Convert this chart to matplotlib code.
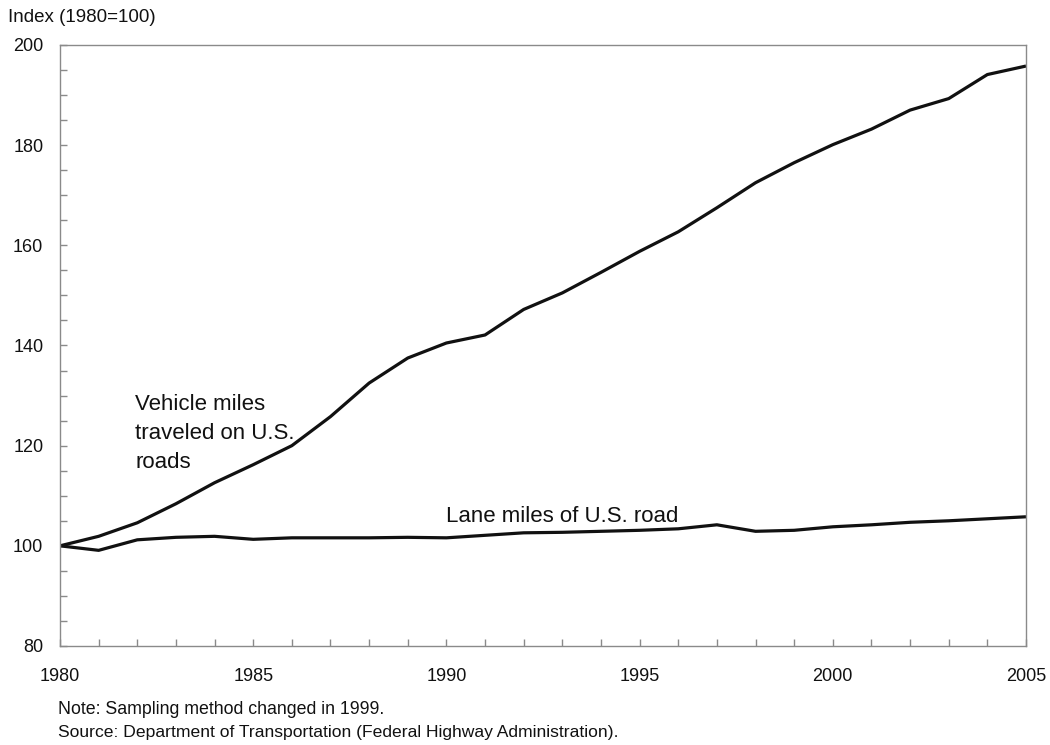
import numpy as np
import matplotlib
matplotlib.use("Agg")
import matplotlib.pyplot as plt
from matplotlib.ticker import MultipleLocator

plt.rcParams["font.family"] = ["Liberation Sans", "DejaVu Sans"]

# Data (index, 1980=100)
years = list(range(1980, 2006))
vehicle_miles = [100, 101.9, 104.6, 108.4, 112.6, 116.2, 120.0, 125.8, 132.5, 137.5,
                 140.5, 142.1, 147.2, 150.5, 154.6, 158.8, 162.7, 167.5, 172.5, 176.5,
                 180.1, 183.2, 187.0, 189.3, 194.1, 195.8]
lane_miles = [100, 99.1, 101.2, 101.7, 101.9, 101.3, 101.6, 101.6, 101.6, 101.7,
              101.6, 102.1, 102.6, 102.7, 102.9, 103.1, 103.4, 104.2, 102.9, 103.1,
              103.8, 104.2, 104.7, 105.0, 105.4, 105.8]

x_major = [1980, 1985, 1990, 1995, 2000, 2005]
y_major = [80, 100, 120, 140, 160, 180, 200]

fig = plt.figure(figsize=(10.5, 7.45), dpi=100)
ax = fig.add_axes([60 / 1050, 1 - 646 / 745, 966 / 1050, 601 / 745])

line_kw = dict(color="#111111", lw=2.3, solid_joinstyle="round", solid_capstyle="butt")
ax.plot(years, vehicle_miles, **line_kw)
ax.plot(years, lane_miles, **line_kw)

ax.set_xlim(1980, 2005)
ax.set_ylim(80, 200)
ax.set_xticks(x_major)
ax.xaxis.set_minor_locator(MultipleLocator(1))
ax.set_yticks(y_major)
ax.yaxis.set_minor_locator(MultipleLocator(5))

for s in ax.spines.values():
    s.set_color("#8a8a8a")
    s.set_linewidth(1.0)

ax.tick_params(axis="both", which="both", direction="in", color="#8a8a8a",
               width=1.0, labelsize=13, labelcolor="#111111", length=5)
ax.tick_params(axis="x", which="major", pad=16)
ax.tick_params(axis="y", which="major", pad=12)

# series labels
ax.text(1981.95, 130.3, "Vehicle miles\ntraveled on U.S.\nroads", fontsize=16,
        color="#111111", va="top", ha="left", linespacing=1.5)
ax.text(1990.0, 104.75, "Lane miles of U.S. road", fontsize=16, color="#111111",
        va="baseline", ha="left")

fig.text(8 / 1050, 1 - 17 / 745, "Index (1980=100)", fontsize=13.5, color="#111111",
         va="center", ha="left")
fig.text(58 / 1050, 1 - 710 / 745, "Note: Sampling method changed in 1999.",
         fontsize=12.8, color="#111111", va="center", ha="left")
fig.text(58 / 1050, 1 - 733 / 745,
         "Source: Department of Transportation (Federal Highway Administration).",
         fontsize=12.6, color="#111111", va="center", ha="left")

fig.savefig("out.png", dpi=100, facecolor="white")
